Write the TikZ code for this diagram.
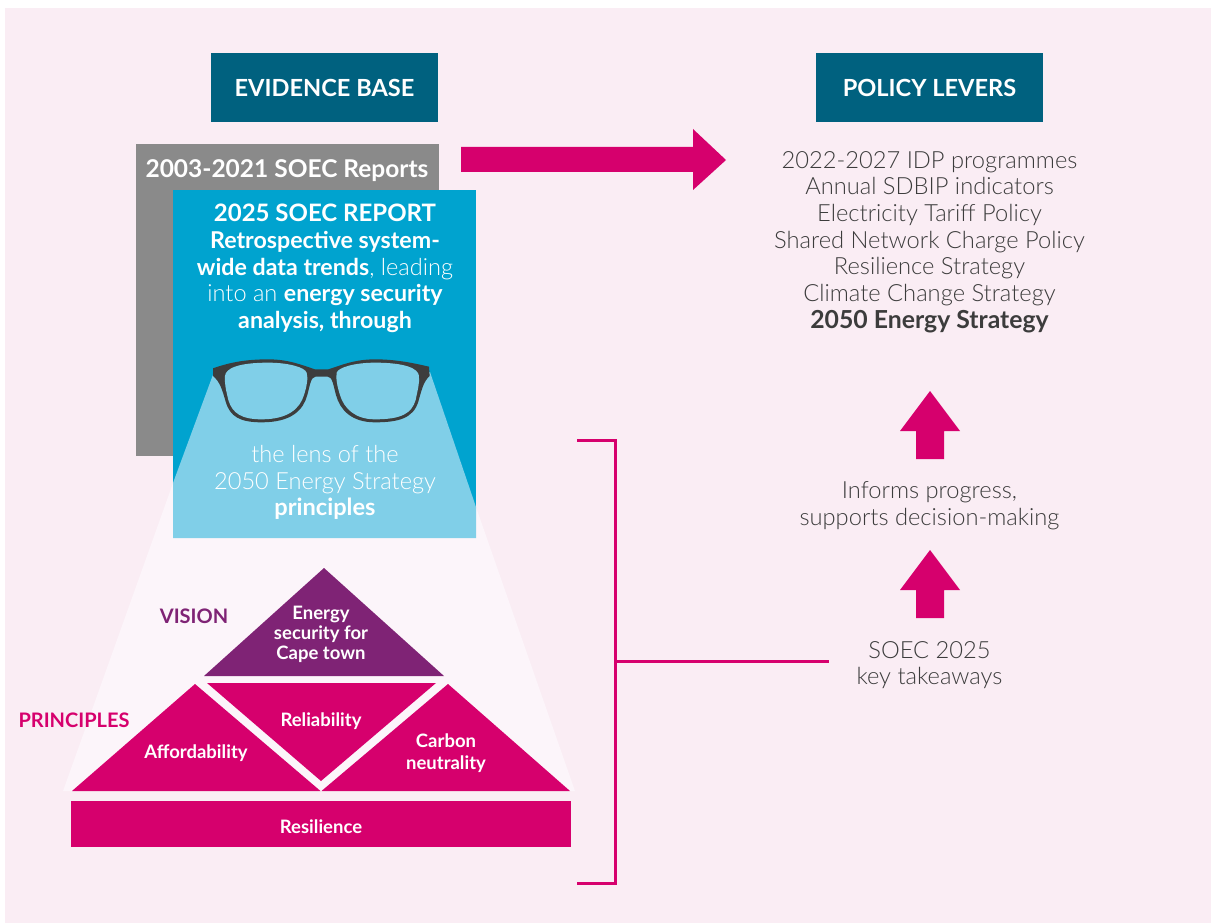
\documentclass[tikz,border=0pt]{standalone}
\usepackage{fontspec}
\setmainfont{Lato}
\newfontfamily\lightf{Lato Light}
\definecolor{bgpink}{HTML}{FAEDF4}
\definecolor{beam}{HTML}{FCF5FA}
\definecolor{magent}{HTML}{D6006D}
\definecolor{purp}{HTML}{7F2375}
\definecolor{teal2}{HTML}{00617F}
\definecolor{blue2}{HTML}{00A3CF}
\definecolor{lblue}{HTML}{80CFE8}
\definecolor{gray2}{HTML}{8A8A8A}
\definecolor{txt}{HTML}{3C3C3C}
\definecolor{frame}{HTML}{3D3D3D}
\tikzset{
  head/.style={fill=teal2,text=white,font=\fontsize{23.6}{27}\selectfont\bfseries,minimum width=227pt,minimum height=69pt,inner sep=0pt},
  box/.style={inner sep=0pt,minimum width=303pt,anchor=north west},
  body/.style={text=txt,font=\lightf\fontsize{23.7}{26.65}\selectfont,align=center,inner sep=0pt},
  onblue/.style={text=white,font=\lightf\fontsize{23.6}{26.65}\selectfont,align=center,inner sep=0pt},
  tri/.style={text=white,font=\fontsize{18.5}{20}\selectfont\bfseries,align=center,inner sep=0pt},
  bar/.style={draw=magent,line width=3pt},
  blockarrow/.style={fill=magent},
}
\newcommand{\bb}[1]{{\fontspec{Lato}\bfseries #1}}
\newcommand{\bbs}[1]{{\fontspec{Lato}\fontsize{23.2}{26.65}\selectfont\bfseries #1}}
\begin{document}
\begin{tikzpicture}[x=1pt,y=-1pt]
\useasboundingbox (0,0) rectangle (1211,923);
\fill[white] (0,0) rectangle (1211,923);
\fill[bgpink] (5,8) rectangle (1211,923);
% beam outside the report
\fill[beam] (173,483) -- (63,791) -- (575,791) -- (476,507) -- (476,538) -- (173,538) -- cycle;
% headers
\node[head] (evidence) at (324.5,87.5) {\raisebox{-1pt}{EVIDENCE BASE}};
\node[head] (levers) at (929.5,87.5) {\raisebox{-1pt}{POLICY LEVERS}};
% report boxes
\node[box,fill=gray2,minimum height=312pt] (oldbox) at (136,144) {};
\node[text=white,font=\fontsize{24.5}{27}\selectfont\bfseries,inner sep=0pt] (oldt) at (287,170.5) {2003-2021 SOEC Reports};
\node[box,fill=blue2,minimum height=348pt] (newbox) at (173,190) {};
\fill[lblue] (214,372) -- (173,483) -- (173,538) -- (476,538) -- (476,507) -- (430,372) -- cycle;
\node[onblue] (newt) at (325,268.5) {\bb{\fontsize{24}{26.65}\selectfont 2025 SOEC REPORT}\\\bbs{Retrospective system-}\\\bbs{wide data trends}, leading\\into an \bbs{energy security}\\\bbs{analysis, through}};
% glasses
\begin{scope}[shift={(205,350)},x=0.3333pt,y=-0.3333pt]
\fill[frame] (24,55) .. controls (80,35) and (130,28) .. (190,28)
  .. controls (250,28) and (290,45) .. (330,58)
  -- (370,58) .. controls (410,45) and (450,28) .. (510,28)
  .. controls (570,28) and (620,38) .. (672,50)
  -- (674,78) .. controls (655,95) and (650,120) .. (640,155)
  .. controls (625,205) and (580,217) .. (510,217)
  .. controls (440,217) and (405,180) .. (393,135)
  .. controls (385,105) and (382,80) .. (368,80)
  -- (332,80) .. controls (318,80) and (315,105) .. (307,135)
  .. controls (295,180) and (260,217) .. (170,217)
  .. controls (105,217) and (75,200) .. (62,155)
  .. controls (52,120) and (45,95) .. (24,78) -- cycle;
\fill[lblue] (60,78) .. controls (62,55) and (100,38) .. (190,38)
  .. controls (250,38) and (300,52) .. (305,68)
  .. controls (310,85) and (305,110) .. (297,135)
  .. controls (285,175) and (250,208) .. (170,208)
  .. controls (110,208) and (82,190) .. (70,150)
  .. controls (63,120) and (58,100) .. (60,78) -- cycle;
\fill[lblue] (642,78) .. controls (640,55) and (600,38) .. (510,38)
  .. controls (450,38) and (400,52) .. (395,68)
  .. controls (392,85) and (397,110) .. (405,135)
  .. controls (417,175) and (450,208) .. (510,208)
  .. controls (590,208) and (620,190) .. (632,150)
  .. controls (638,120) and (644,100) .. (642,78) -- cycle;
\end{scope}
\node[onblue] (lens) at (325,482.5) {the lens of the\\2050 Energy Strategy\\\bb{principles}};
% pyramid
\fill[purp] (324,568) -- (204,676) -- (444,676) -- cycle;
\fill[magent] (195,684) -- (72,791) -- (320.5,791) -- cycle;
\fill[magent] (448,684) -- (321.5,791) -- (570,791) -- cycle;
\fill[magent] (207,683) -- (436,683) -- (321,781) -- cycle;
\node[fill=magent,minimum width=500pt,minimum height=46pt,inner sep=0pt] (resil) at (321,824) {};
\node[tri] (resilt) at (321,827) {Resilience};
\node[tri] (energy) at (321,634) {Energy\\security for\\Cape town};
\node[tri] (reliab) at (321,721) {Reliability};
\node[tri] (afford) at (196,753) {Affordability};
\node[tri,font=\fontsize{18.5}{22}\selectfont\bfseries] (carbon) at (446,753) {Carbon\\neutrality};
\node[text=purp,font=\fontsize{20}{24}\selectfont\bfseries,inner sep=0pt] (vision) at (194,616.5) {VISION};
\node[text=magent,font=\fontsize{20}{24}\selectfont\bfseries,inner sep=0pt] (princ) at (74,720.5) {PRINCIPLES};
% right column
\node[body] (list) at (929.5,242) {2022-2027 IDP programmes\\Annual SDBIP indicators\\Electricity Tariff Policy\\Shared Network Charge Policy\\Resilience Strategy\\Climate Change Strategy\\{\fontspec{Lato}\fontsize{24.8}{26.65}\selectfont\bfseries 2050 Energy Strategy}};
\node[body] (informs) at (929.5,505.5) {Informs progress,\\supports decision-making};
\node[body] (takeaways) at (929.5,665) {SOEC 2025\\key takeaways};
% block arrows
\fill[blockarrow] (461,147) -- (693,147) -- (693,129) -- (726,160) -- (693,190) -- (693,172) -- (461,172) -- cycle;
\fill[blockarrow] (930,391) -- (960,431) -- (944,431) -- (944,459) -- (916,459) -- (916,431) -- (900,431) -- cycle;
\fill[blockarrow] (930,550) -- (960,590) -- (944,590) -- (944,618) -- (916,618) -- (916,590) -- (900,590) -- cycle;
% bracket
\coordinate (bt) at (577,440);
\coordinate (bb) at (577,883);
\coordinate (bm) at (615.5,661);
\coordinate (bk) at (829,661);
\draw[bar] (bt) -- (bt -| bm) -- (bb -| bm) -- (bb);
\draw[bar] (bm) -- (bk);
\end{tikzpicture}
\end{document}
